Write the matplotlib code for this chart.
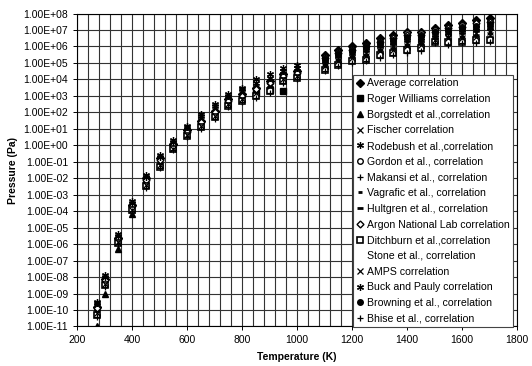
import numpy as np
import matplotlib
matplotlib.use("Agg")
import matplotlib.pyplot as plt
from matplotlib.ticker import FixedLocator, MultipleLocator, FuncFormatter

plt.rcParams["font.family"] = ["Liberation Sans", "DejaVu Sans"]

# temperatures (K) of the data clusters
temps = [273, 300, 350, 400, 450, 500, 550, 600, 650, 700, 750, 800, 850, 900, 950, 1000,
         1100, 1150, 1200, 1250, 1300, 1350, 1400, 1450, 1500, 1550, 1600, 1650, 1700]
nan = np.nan

# log10 of pressure (Pa), one list per correlation
average = [-9.8, -8.1, -5.6, -3.6, -2.0, -0.8, 0.1, 0.9, 1.5, 2.1, 2.8, 3.1, 3.5, 3.9, 4.3, 4.5,
           5.5, 5.8, 6.0, 6.2, 6.5, 6.7, 6.9, 6.9, 7.1, 7.3, 7.4, 7.6, 7.7]
roger_williams = [nan] * 12 + [3.2, 3.35, 3.3] + [nan] * 14
borgstedt = [-11.0, -9.05, -6.3, -4.2] + [nan] * 25
fischer = [-10.1, -8.3, -5.8, -3.8, -2.2, -1.0, -0.1, 0.7, 1.3, 1.9, 2.6, 2.9, 3.3, 3.7, 4.1, 4.3,
           5.0, 5.3, 5.5, 5.6, 5.9, 6.0, 6.2, 6.3, 6.5, 6.6, 6.7, 6.8, 6.9]
rodebush = [-9.5, -7.9, -5.4, -3.4, -1.8, -0.6, 0.3, 1.2, 1.9, 2.5, 3.1, 3.5, 4.0, 4.3, 4.7, 4.9,
            5.2, 5.5, 5.7, 5.9, 6.1, 6.3, 6.5, 6.5, 6.7, 6.9, 7.0, 7.1, 7.2]
gordon = [nan] * 16 + [5.35, 5.65, 5.85, 6.05, 6.35, 6.55, 6.8, 6.8, 7.0, 7.2, 7.3, 7.45, 7.55]
makansi = [-10.0, -8.3, -5.7, -3.7, -2.3, -1.1, 0.0, 0.8, 1.3, 1.9, 2.6, 3.0, 3.3, 3.6, 4.0, 4.3,
           4.7, 5.0, 5.2, 5.3, 5.6, 5.7, 5.9, 6.0, 6.35, 6.4, 6.4, 6.5, 6.5]
vagrafic = [-10.2, -8.4, -5.85, -3.85, -2.35, -1.15, -0.15, 0.65, 1.25, 1.85, 2.55, 2.85, 3.25, 3.55,
            3.95, 4.25, 4.9, 5.2, 5.4, 5.5, 5.8, 5.9, 6.1, 6.2, 6.45, 6.55, 6.6, 6.7, 6.8]
hultgren = [-10.3, -8.5, -5.9, -3.9, -2.45, -1.25, -0.2, 0.6, 1.15, 1.75, 2.45, 2.75, 3.1, 3.4,
            3.85, 4.15, 4.7, 5.0, 5.2, 5.3, 5.6, 5.7, 5.85, 5.95, 6.3, 6.3, 6.35, 6.45, 6.5]
argon = [-9.9, -8.2, -5.7, -3.7, -2.1, -0.9, 0.0, 0.8, 1.4, 2.0, 2.7, 3.0, 3.4, 3.8, 4.2, 4.4,
         5.3, 5.6, 5.8, 6.0, 6.3, 6.5, 6.7, 6.7, 6.9, 7.1, 7.2, 7.4, 7.5]
ditchburn = [-10.3, -8.5, -5.95, -3.95, -2.5, -1.3, -0.25, 0.55, 1.1, 1.7, 2.4, 2.7, 3.0, 3.3, 3.9,
             4.1, 4.6, 4.9, 5.1, 5.2, 5.5, 5.6, 5.8, 5.9, 6.3, 6.3, 6.3, 6.4, 6.4]
stone = [nan] * 29
amps = [-10.2, -8.4, -5.9, -3.9, -2.4, -1.2, -0.2, 0.6, 1.2, 1.8, 2.5, 2.8, 3.2, 3.6, 4.0, 4.2,
        4.8, 5.1, 5.3, 5.4, 5.7, 5.8, 6.0, 6.1, 6.4, 6.5, 6.5, 6.6, 6.7]
buck_pauly = [-9.6, -8.0, -5.5, -3.5, -1.9, -0.7, 0.2, 1.1, 1.8, 2.4, 3.0, 3.4, 3.8, 4.1, 4.5, 4.7,
              5.1, 5.4, 5.6, 5.8, 6.0, 6.2, 6.4, 6.4, 6.6, 6.8, 6.9, 7.0, 7.1]
browning = [nan] * 16 + [5.25, 5.55, 5.75, 5.95, 6.2, 6.4, 6.6, 6.65, 6.85, 7.0, 7.1, 7.25, 7.35]
bhise = [-10.4, -8.6, -6.0, -4.0, -2.6, -1.4, -0.3, 0.5, 1.0, 1.6, 2.3, 2.6, 2.9, 3.2, 3.8, 4.0,
         4.5, 4.8, 5.0, 5.1, 5.3, 5.5, 5.6, 5.7, 6.2, 6.1, 6.2, 6.2, 6.3]

series = [
    ("Average correlation", average, dict(marker="D", ms=4, mfc="black")),
    ("Roger Williams correlation", roger_williams, dict(marker="s", ms=5, mfc="black")),
    ("Borgstedt et al.,correlation", borgstedt, dict(marker="^", ms=5, mfc="black")),
    ("Fischer correlation", fischer, dict(marker="x", ms=4.5, mew=0.9)),
    ("Rodebush et al.,correlation", rodebush, dict(marker=(6, 2, 0), ms=5, mew=0.9)),
    ("Gordon et al., correlation", gordon, dict(marker="o", ms=4, mfc="white")),
    ("Makansi et al., correlation", makansi, dict(marker="+", ms=5, mew=0.9)),
    ("Vagrafic et al., correlation", vagrafic, dict(marker="_", ms=3.5, mew=2)),
    ("Hultgren et al., correlation", hultgren, dict(marker="_", ms=5, mew=2)),
    ("Argon National Lab correlation", argon, dict(marker="D", ms=3.5, mfc="white")),
    ("Ditchburn et al.,correlation", ditchburn, dict(marker="s", ms=4, mfc="white", mew=1.2)),
    ("Stone et al., correlation", stone, dict(marker="None")),
    ("AMPS correlation", amps, dict(marker="x", ms=4.5, mew=0.9)),
    ("Buck and Pauly correlation", buck_pauly, dict(marker=(6, 2, 0), ms=5, mew=0.9)),
    ("Browning et al., correlation", browning, dict(marker="o", ms=4, mfc="black")),
    ("Bhise et al., correlation", bhise, dict(marker="+", ms=5, mew=0.9)),
]

fig = plt.figure(figsize=(5.32, 3.66), dpi=100)
ax = fig.add_axes([0.145, 0.108, 0.827, 0.855])

t = np.array(temps)
for label, vals, style in series:
    p = 10.0 ** np.array(vals, dtype=float)
    ax.plot(t, p, linestyle="none", color="black", mec="black", label=label, **style)

ax.set_yscale("log")
ax.set_xlim(200, 1800)
ax.set_ylim(1e-11, 1e8)
ax.xaxis.set_major_locator(MultipleLocator(200))
ax.xaxis.set_minor_locator(MultipleLocator(40))
ax.yaxis.set_major_locator(FixedLocator([10.0 ** k for k in range(-11, 9)]))
ax.yaxis.set_minor_locator(FixedLocator([]))
ax.yaxis.set_major_formatter(FuncFormatter(lambda v, pos: f"{v:.2E}"))
ax.tick_params(axis="both", labelsize=7.5, length=3, width=0.7, colors="black")
ax.tick_params(axis="x", which="minor", length=0)

ax.grid(True, which="major", color="#333333", linewidth=0.8)
ax.grid(True, which="minor", axis="x", color="#333333", linewidth=0.8)
for s in ax.spines.values():
    s.set_linewidth(0.8)

ax.set_xlabel("Temperature (K)", fontsize=7.5, fontweight="bold", labelpad=5)
ax.set_ylabel("Pressure (Pa)", fontsize=7.5, fontweight="bold", labelpad=4)

leg = ax.legend(loc="upper left", bbox_to_anchor=(0.627, 0.805), fontsize=7.6,
                frameon=True, fancybox=False, framealpha=1, edgecolor="#444444",
                borderpad=0.35, labelspacing=0.54, handlelength=0.7, handletextpad=0.25,
                borderaxespad=0)
leg.get_frame().set_linewidth(0.8)

fig.savefig("out.png", dpi=100)
